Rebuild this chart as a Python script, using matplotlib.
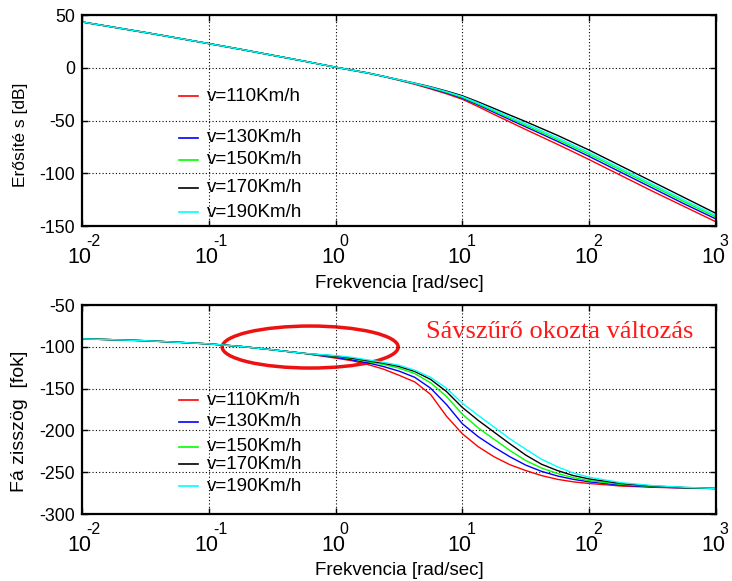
import matplotlib
matplotlib.use("Agg")
import matplotlib.pyplot as plt
from matplotlib.patches import Ellipse

plt.rcParams["font.family"] = ["Liberation Sans", "DejaVu Sans"]
plt.rcParams["axes.unicode_minus"] = False

# frequency points [rad/sec]; eighth decades through the transition region
w = [0.01, 0.0178, 0.0316, 0.0562, 0.1, 0.178, 0.316, 0.562,
     1.0, 1.334, 1.778, 2.371, 3.162, 4.217, 5.623, 7.499,
     10.0, 13.34, 17.78, 23.71, 31.62, 42.17, 56.23, 74.99,
     100.0, 177.8, 316.2, 562.3, 1000.0]

labels = ["v=110Km/h", "v=130Km/h", "v=150Km/h", "v=170Km/h", "v=190Km/h"]
colors = ["#ff0000", "#0000ff", "#00ff00", "#000000", "#00ffff"]

# magnitude [dB]
mag_110 = [43.5, 38.5, 33.5, 28.3, 23.0, 17.6, 12.0, 6.4,
           0.6, -2.1, -4.8, -8.1, -11.8, -15.6, -20.0, -24.6,
           -29.8, -36.8, -44.2, -51.3, -58.5, -65.5, -72.5, -79.7,
           -87.0, -102.0, -117.0, -131.5, -146.0]
mag_130 = [43.5, 38.5, 33.5, 28.3, 23.0, 17.6, 12.0, 6.4,
           0.6, -2.1, -4.8, -8.0, -11.5, -15.1, -19.3, -23.7,
           -28.7, -35.2, -42.2, -49.1, -56.0, -62.8, -69.7, -76.8,
           -84.0, -99.0, -114.0, -129.0, -143.3]
mag_150 = [43.5, 38.5, 33.5, 28.3, 23.0, 17.6, 12.0, 6.4,
           0.6, -2.1, -4.8, -8.0, -11.3, -14.9, -18.8, -23.1,
           -28.0, -34.3, -41.0, -47.7, -54.5, -61.2, -68.0, -75.0,
           -82.0, -97.0, -112.0, -127.0, -141.5]
mag_170 = [43.5, 38.5, 33.5, 28.3, 23.0, 17.6, 12.0, 6.4,
           0.6, -2.1, -4.8, -8.0, -11.3, -14.5, -18.0, -22.0,
           -26.5, -32.3, -38.5, -44.8, -51.0, -57.5, -64.0, -71.0,
           -78.0, -93.0, -108.0, -123.0, -138.0]
mag_190 = [43.5, 38.5, 33.5, 28.3, 23.0, 17.6, 12.0, 6.4,
           0.6, -2.1, -4.8, -8.0, -11.3, -14.7, -18.4, -22.6,
           -27.3, -33.4, -40.0, -46.5, -53.0, -59.6, -66.3, -73.3,
           -80.3, -95.3, -110.3, -125.3, -140.0]

# phase [deg]
ph_110 = [-90.5, -91.5, -92.7, -94.5, -96.5, -99.5, -103.5, -107.8,
          -113.5, -116.5, -121.0, -126.5, -134.0, -142.0, -157.0, -183.0,
          -204.0, -219.5, -231.5, -241.0, -248.0, -254.0, -258.5, -261.5,
          -263.5, -266.5, -268.0, -269.0, -269.5]
ph_130 = [-90.5, -91.5, -92.7, -94.5, -96.5, -99.5, -103.5, -107.8,
          -112.5, -115.5, -119.0, -123.5, -129.0, -136.5, -149.5, -169.0,
          -192.0, -207.5, -220.0, -231.5, -241.5, -249.0, -254.5, -258.5,
          -261.5, -265.5, -267.5, -268.8, -269.5]
ph_150 = [-90.5, -91.5, -92.7, -94.5, -96.5, -99.5, -103.5, -107.8,
          -111.5, -114.0, -117.5, -121.0, -125.5, -132.0, -143.0, -159.5,
          -180.5, -197.0, -210.5, -224.0, -236.0, -245.0, -251.5, -256.5,
          -260.0, -264.5, -267.0, -268.5, -269.5]
ph_170 = [-90.5, -91.5, -92.7, -94.5, -96.5, -99.5, -103.5, -107.8,
          -111.0, -113.5, -116.5, -119.5, -123.5, -129.5, -139.0, -153.5,
          -172.5, -188.0, -202.0, -216.0, -229.5, -240.5, -248.0, -254.0,
          -258.0, -263.5, -266.5, -268.3, -269.5]
ph_190 = [-90.5, -91.5, -92.7, -94.5, -96.5, -99.5, -103.5, -107.8,
          -110.5, -112.5, -115.5, -118.5, -122.0, -128.0, -136.5, -149.5,
          -167.5, -182.0, -196.0, -210.0, -222.5, -234.5, -243.5, -251.0,
          -256.0, -262.5, -266.0, -268.0, -269.5]

mags = [mag_110, mag_130, mag_150, mag_170, mag_190]
phases = [ph_110, ph_130, ph_150, ph_170, ph_190]

xticks = [0.01, 0.1, 1, 10, 100, 1000]
xexps = ["-2", "-1", "0", "1", "2", "3"]

# hand-placed legend rows (axes fraction), like the original figure
leg_y_top = [0.616, 0.418, 0.313, 0.182, 0.066]
leg_y_bot = [0.545, 0.442, 0.322, 0.238, 0.134]


def style_axes(ax, yticks, ylim, ylabel, label_y, label_size):
    ax.set_xscale("log")
    ax.set_xlim(0.01, 1000)
    ax.set_ylim(*ylim)
    ax.set_xticks(xticks)
    ax.set_xticklabels([])
    ax.minorticks_off()
    ax.set_yticks(yticks)
    ax.set_yticklabels([str(v) for v in yticks], fontsize=12.8)
    ax.tick_params(direction="in", top=True, right=True, length=4, width=1, pad=5)
    ax.grid(True, color="black", linestyle=(0, (1, 2)), linewidth=0.8)
    for s in ax.spines.values():
        s.set_linewidth(1.6)
    # MATLAB-style decade labels: "10" with a raised exponent
    for t, e in zip(xticks, xexps):
        ax.annotate("10", xy=(t, 0), xycoords=("data", "axes fraction"),
                    xytext=(-2.5, -37), textcoords="offset pixels",
                    ha="center", va="baseline", fontsize=15.5)
        ax.annotate(e, xy=(t, 0), xycoords=("data", "axes fraction"),
                    xytext=(4, -20), textcoords="offset pixels",
                    ha="left", va="baseline", fontsize=11.5)
    ax.set_xlabel("Frekvencia [rad/sec]", fontsize=13.5, va="top")
    ax.xaxis.set_label_coords(0.5, -0.232)
    ax.set_ylabel(ylabel, fontsize=label_size)
    ax.yaxis.set_label_coords(-0.085, label_y)


def draw_legend(ax, rows):
    for lab, col, y in zip(labels, colors, rows):
        ax.plot([0.153, 0.183], [y, y], color=col, lw=1.2, transform=ax.transAxes)
        ax.text(0.197, y, lab, transform=ax.transAxes, fontsize=13.5,
                va="center", ha="left")


fig = plt.figure(figsize=(7.32, 5.81), dpi=100)
ax1 = fig.add_axes([0.112, 0.611, 0.866, 0.363])
ax2 = fig.add_axes([0.112, 0.1153, 0.866, 0.3597])

for m, c in zip(mags, colors):
    ax1.plot(w, m, color=c, lw=1)
style_axes(ax1, [50, 0, -50, -100, -150], (-150, 50), "Erősíté s [dB]", 0.431, 12.5)
draw_legend(ax1, leg_y_top)

for p, c in zip(phases, colors):
    ax2.plot(w, p, color=c, lw=1)
style_axes(ax2, [-50, -100, -150, -200, -250, -300], (-300, -50), "Fá zisszög  [fok]", 0.445, 14)
draw_legend(ax2, leg_y_bot)

ell = Ellipse((0.36, 0.799), 0.2776, 0.201, transform=ax2.transAxes,
              fill=False, edgecolor="#ee1111", lw=2.5, clip_on=False)
ax2.add_patch(ell)
ax2.text(0.5426, 0.87, "Sávszűrő okozta változás", transform=ax2.transAxes,
         fontsize=19, color="#ff1a1a", family=["Liberation Serif", "DejaVu Serif"],
         va="center", ha="left")

fig.savefig("out.png", dpi=100)
